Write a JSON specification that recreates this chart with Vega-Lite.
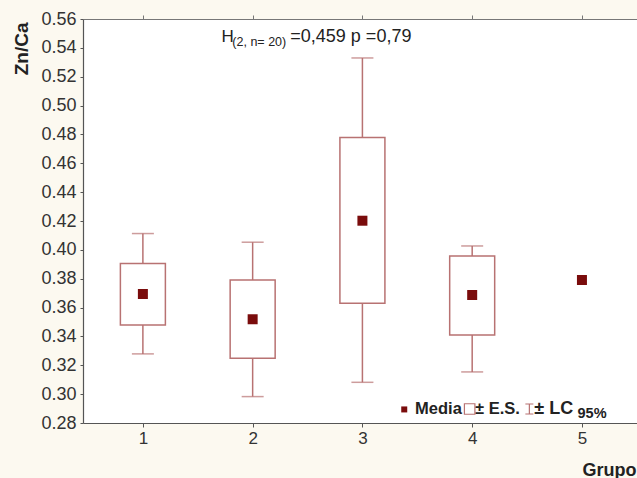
{
  "$schema": "https://vega.github.io/schema/vega-lite/v6.json",
  "width": 554,
  "height": 404,
  "autosize": {"type": "none"},
  "padding": {"left": 83, "top": 19, "right": 0, "bottom": 55},
  "background": "#fcf9f0",
  "config": {
    "view": {"fill": "white", "stroke": null},
    "font": "Liberation Sans",
    "axis": {"labelOverlap": false},
    "axisY": {"labelOverlap": false, "tickCount": 15}
  },
  "resolve": {"axis": {"x": "independent"}},
  "datasets": {
    "stats": [
      {"grupo": 1, "mean": 0.3694, "es_lo": 0.3479, "es_hi": 0.3905, "lc_lo": 0.3279, "lc_hi": 0.4113},
      {"grupo": 2, "mean": 0.3519, "es_lo": 0.3249, "es_hi": 0.3791, "lc_lo": 0.2983, "lc_hi": 0.4053},
      {"grupo": 3, "mean": 0.4202, "es_lo": 0.3630, "es_hi": 0.4778, "lc_lo": 0.3082, "lc_hi": 0.5330},
      {"grupo": 4, "mean": 0.3687, "es_lo": 0.3410, "es_hi": 0.3957, "lc_lo": 0.3154, "lc_hi": 0.4027},
      {"grupo": 5, "mean": 0.3791, "es_lo": null, "es_hi": null, "lc_lo": null, "lc_hi": null}
    ],
    "annot": [
      {"gx": 1.717, "vy": 0.5441, "txt": "H", "size": 17},
      {"gx": 1.815, "vy": 0.5411, "txt": "(2, n= 20)", "size": 12.5},
      {"gx": 2.343, "vy": 0.5441, "txt": "=0,459 p =0,79", "size": 18}
    ],
    "legtxt": [
      {"gx": 3.480, "vy": 0.2862, "txt": "Media", "size": 16.5},
      {"gx": 4.026, "vy": 0.2862, "txt": "± E.S.", "size": 16.5},
      {"gx": 4.566, "vy": 0.2862, "txt": "± LC", "size": 18},
      {"gx": 4.960, "vy": 0.2835, "txt": "95%", "size": 14.5}
    ],
    "legsym": [
      {"gx": 3.381, "vy": 0.2894, "sym": "mean"},
      {"gx": 3.977, "vy": 0.2897, "sym": "box"},
      {"gx": 4.521, "vy": 0.2897, "sym": "ci"}
    ]
  },
  "layer": [
    {
      "data": {"name": "stats"},
      "mark": {"type": "rule", "color": "#b87272", "strokeWidth": 1.5},
      "encoding": {
        "x": {
          "field": "grupo", "type": "quantitative",
          "scale": {"domain": [0.5, 5.456], "nice": false, "zero": false},
          "axis": {
            "title": "Grupo", "values": [1, 2, 3, 4, 5], "format": "d",
            "grid": false, "domainColor": "#555", "domainWidth": 1.2,
            "tickColor": "#555", "tickSize": 4,
            "labelFontSize": 17, "labelColor": "#333", "labelPadding": 3,
            "titleFontSize": 18, "titleFontWeight": "bold", "titleColor": "#222",
            "titleAnchor": "start", "titleAlign": "left", "titleX": 499, "titleY": 52,
            "titleBaseline": "alphabetic"
          }
        },
        "y": {
          "field": "lc_lo", "type": "quantitative",
          "scale": {"domain": [0.28, 0.56], "nice": false, "zero": false},
          "axis": {
            "title": "Zn/Ca",
            "values": [0.28, 0.3, 0.32, 0.34, 0.36, 0.38, 0.4, 0.42, 0.44, 0.46, 0.48, 0.5, 0.52, 0.54, 0.56],
            "format": ".2f", "grid": false, "domainColor": "#555", "domainWidth": 1.2,
            "tickColor": "#555", "tickSize": 3, "labelOverlap": false, "labelFlush": false,
            "labelFontSize": 18, "labelColor": "#333", "labelPadding": 4,
            "titleFontSize": 19, "titleFontWeight": "bold", "titleColor": "#222",
            "titleAngle": -90, "titleAlign": "right", "titleBaseline": "alphabetic",
            "titleX": -56, "titleY": 3
          }
        },
        "y2": {"field": "lc_hi"}
      }
    },
    {
      "data": {"name": "stats"},
      "mark": {"type": "tick", "orient": "horizontal", "color": "#b87272", "size": 22, "thickness": 1.5},
      "encoding": {
        "x": {
          "field": "grupo", "type": "quantitative",
          "axis": {
            "orient": "top", "title": null, "labels": false, "values": [1, 2, 3, 4, 5],
            "grid": false, "domainColor": "#777", "domainWidth": 1.2,
            "tickColor": "#777", "tickSize": 4
          }
        },
        "y": {"field": "lc_lo", "type": "quantitative"}
      }
    },
    {
      "data": {"name": "stats"},
      "mark": {"type": "tick", "orient": "horizontal", "color": "#b87272", "size": 22, "thickness": 1.5},
      "encoding": {
        "x": {"field": "grupo", "type": "quantitative", "axis": null},
        "y": {"field": "lc_hi", "type": "quantitative"}
      }
    },
    {
      "data": {"name": "stats"},
      "mark": {"type": "bar", "size": 45, "fill": "white", "stroke": "#b87272", "strokeWidth": 1.5},
      "encoding": {
        "x": {"field": "grupo", "type": "quantitative", "axis": null},
        "y": {"field": "es_lo", "type": "quantitative"},
        "y2": {"field": "es_hi"}
      }
    },
    {
      "data": {"name": "stats"},
      "mark": {"type": "square", "size": 100, "color": "#7a0c0c", "opacity": 1},
      "encoding": {
        "x": {"field": "grupo", "type": "quantitative", "axis": null},
        "y": {"field": "mean", "type": "quantitative"}
      }
    },
    {
      "data": {"name": "annot"},
      "mark": {"type": "text", "align": "left", "baseline": "alphabetic", "color": "#222"},
      "encoding": {
        "x": {"field": "gx", "type": "quantitative", "axis": null},
        "y": {"field": "vy", "type": "quantitative"},
        "text": {"field": "txt"},
        "size": {"field": "size", "type": "quantitative", "scale": null}
      }
    },
    {
      "data": {"name": "legtxt"},
      "mark": {"type": "text", "align": "left", "baseline": "alphabetic", "color": "#222", "fontWeight": "bold"},
      "encoding": {
        "x": {"field": "gx", "type": "quantitative", "axis": null},
        "y": {"field": "vy", "type": "quantitative"},
        "text": {"field": "txt"},
        "size": {"field": "size", "type": "quantitative", "scale": null}
      }
    },
    {
      "data": {"name": "legsym"},
      "transform": [{"filter": "datum.sym == 'mean'"}],
      "mark": {"type": "square", "size": 36, "color": "#7a0c0c", "opacity": 1},
      "encoding": {
        "x": {"field": "gx", "type": "quantitative", "axis": null},
        "y": {"field": "vy", "type": "quantitative"}
      }
    },
    {
      "data": {"name": "legsym"},
      "transform": [{"filter": "datum.sym == 'box'"}],
      "mark": {"type": "point", "shape": "square", "size": 110, "filled": false, "stroke": "#b87272", "strokeWidth": 1.2, "fill": "white", "opacity": 1},
      "encoding": {
        "x": {"field": "gx", "type": "quantitative", "axis": null},
        "y": {"field": "vy", "type": "quantitative"}
      }
    },
    {
      "data": {"name": "legsym"},
      "transform": [{"filter": "datum.sym == 'ci'"}],
      "mark": {"type": "point", "shape": "M-0.8,-1H0.8M0,-1V1M-0.8,1H0.8", "size": 100, "filled": false, "stroke": "#b87272", "strokeWidth": 1.2, "opacity": 1},
      "encoding": {
        "x": {"field": "gx", "type": "quantitative", "axis": null},
        "y": {"field": "vy", "type": "quantitative"}
      }
    }
  ]
}
